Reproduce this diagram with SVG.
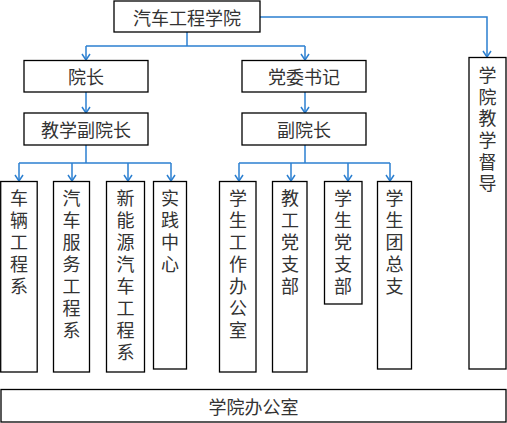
<svg xmlns="http://www.w3.org/2000/svg" width="507" height="423" viewBox="0 0 507 423">
<style>
.box{fill:#fff;stroke:#000;stroke-width:1.3}
.t{font-family:"Noto Sans CJK SC","Liberation Sans",sans-serif;font-size:18px;fill:#333;text-anchor:middle;dominant-baseline:central}
.v{font-family:"Noto Sans CJK SC","Liberation Sans",sans-serif;font-size:18px;fill:#333;writing-mode:vertical-rl;text-anchor:start;letter-spacing:4px}
.c{fill:none;stroke:#2b7fd0;stroke-width:1.5}
</style>
<defs>
<marker id="ah" markerUnits="userSpaceOnUse" viewBox="0 0 8 10" refX="7" refY="5" markerWidth="8" markerHeight="10" orient="auto">
<path d="M1,1 L7,5 L1,9" fill="none" stroke="#2b7fd0" stroke-width="1.5"/>
</marker>
</defs>
<g id="connectors">
<path class="c" d="M187,32 V46"/>
<path class="c" d="M86,46 H305"/>
<path class="c" d="M86,46 V60" marker-end="url(#ah)"/>
<path class="c" d="M305,46 V60" marker-end="url(#ah)"/>
<path class="c" d="M260,17 H487 V57" marker-end="url(#ah)"/>
<path class="c" d="M86,92 V113" marker-end="url(#ah)"/>
<path class="c" d="M305,92 V113" marker-end="url(#ah)"/>
<path class="c" d="M86,145 V163"/>
<path class="c" d="M19,163 H171"/>
<path class="c" d="M19,163 V181" marker-end="url(#ah)"/>
<path class="c" d="M72,163 V181" marker-end="url(#ah)"/>
<path class="c" d="M128,163 V181" marker-end="url(#ah)"/>
<path class="c" d="M171,163 V181" marker-end="url(#ah)"/>
<path class="c" d="M305,145 V163"/>
<path class="c" d="M239,163 H390"/>
<path class="c" d="M239,163 V181" marker-end="url(#ah)"/>
<path class="c" d="M291,163 V181" marker-end="url(#ah)"/>
<path class="c" d="M348,163 V181" marker-end="url(#ah)"/>
<path class="c" d="M390,163 V181" marker-end="url(#ah)"/>
</g>
<g id="n-college">
<rect class="box" x="114" y="1" width="146" height="31"/>
<text class="t" x="187" y="16.5">汽车工程学院</text>
</g>
<g id="n-dean">
<rect class="box" x="24" y="60.5" width="124" height="31.5"/>
<text class="t" x="86" y="76">院长</text>
</g>
<g id="n-secretary">
<rect class="box" x="242" y="60.5" width="124" height="31.5"/>
<text class="t" x="304" y="76">党委书记</text>
</g>
<g id="n-teachvice">
<rect class="box" x="24" y="113" width="124" height="32"/>
<text class="t" x="86" y="129">教学副院长</text>
</g>
<g id="n-vice">
<rect class="box" x="242" y="113" width="124" height="32"/>
<text class="t" x="304" y="129">副院长</text>
</g>
<g id="n-supervise">
<rect class="box" x="469" y="57.5" width="37" height="311.5"/>
<text class="v" x="487.5" y="66" style="letter-spacing:3.7px">学院教学督导</text>
</g>
<g id="n-vehicle">
<rect class="box" x="0.7" y="181.5" width="36.5" height="190.5"/>
<text class="v" x="19" y="189">车辆工程系</text>
</g>
<g id="n-service">
<rect class="box" x="53.5" y="181.5" width="36" height="190.5"/>
<text class="v" x="71.5" y="189">汽车服务工程系</text>
</g>
<g id="n-newenergy">
<rect class="box" x="106.5" y="181.5" width="38" height="190.5"/>
<text class="v" x="125.5" y="189">新能源汽车工程系</text>
</g>
<g id="n-practice">
<rect class="box" x="153.5" y="181.5" width="33" height="187.5"/>
<text class="v" x="170" y="189">实践中心</text>
</g>
<g id="n-studentwork">
<rect class="box" x="219.5" y="181.5" width="36.5" height="190.5"/>
<text class="v" x="238" y="189">学生工作办公室</text>
</g>
<g id="n-staffparty">
<rect class="box" x="272.5" y="181.5" width="34.5" height="190.5"/>
<text class="v" x="290" y="189">教工党支部</text>
</g>
<g id="n-studentparty">
<rect class="box" x="324.5" y="181.5" width="37.5" height="122.5"/>
<text class="v" x="343" y="189">学生党支部</text>
</g>
<g id="n-league">
<rect class="box" x="377.5" y="181.5" width="34" height="187.5"/>
<text class="v" x="394.5" y="189">学生团总支</text>
</g>
<g id="n-office">
<rect class="box" x="1" y="389.5" width="505" height="32.5"/>
<text class="t" x="253.5" y="406">学院办公室</text>
</g>
</svg>
